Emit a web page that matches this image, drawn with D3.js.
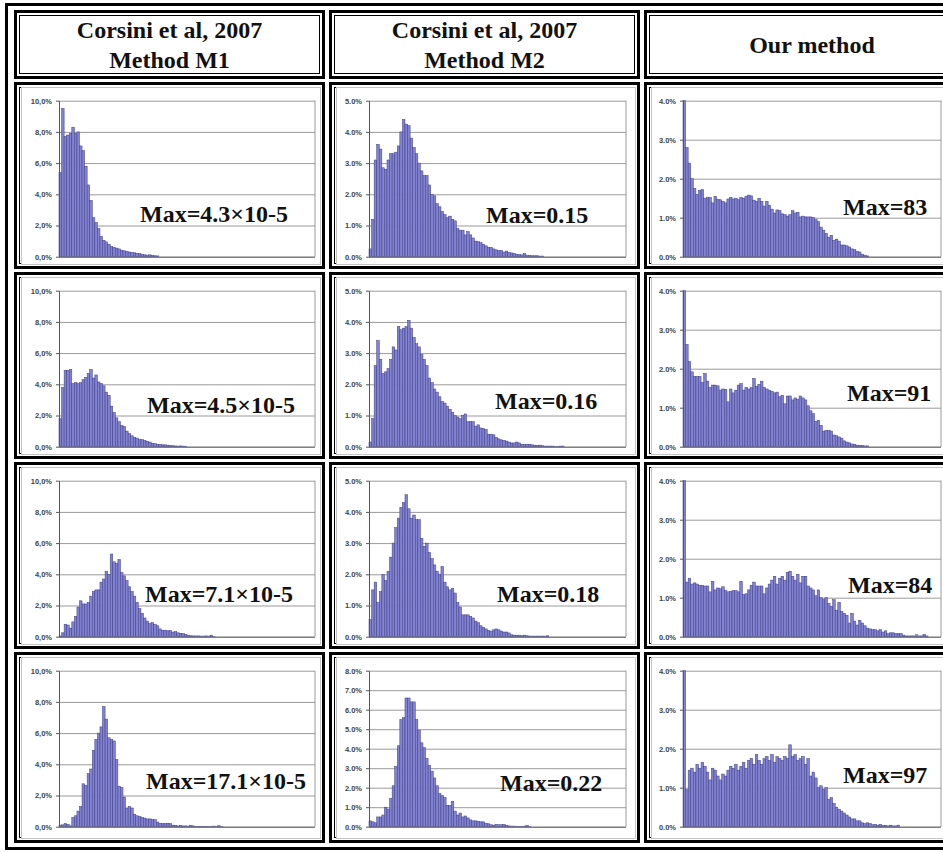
<!DOCTYPE html>
<html>
<head>
<meta charset="utf-8">
<script src="https://cdn.jsdelivr.net/npm/d3@7/dist/d3.min.js"></script>
<style>
  body { margin: 0; background: #fff; }
  svg { display: block; }
</style>
</head>
<body>
<div id="grid"></div>
<script>
// column headers
var headers = [
  ["Corsini et al, 2007", "Method M1"],
  ["Corsini et al, 2007", "Method M2"],
  ["Our method"]
];

// y axis max (%) and tick step per column, last row of M2 goes to 8%
var yMax = [[10, 5, 4], [10, 5, 4], [10, 5, 4], [10, 8, 4]];
var yStep = [2, 1, 1];

var maxLabels = [
  ["Max=4.3×10-5", "Max=0.15", "Max=83"],
  ["Max=4.5×10-5", "Max=0.16", "Max=91"],
  ["Max=7.1×10-5", "Max=0.18", "Max=84"],
  ["Max=17.1×10-5", "Max=0.22", "Max=97"]
];

// histogram values (% of samples per bin), bins not listed are empty
var m1Row1 = [5.4, 9.5, 7.7, 7.8, 7.9, 8.3, 7.9, 8.0, 7.1, 6.8, 5.8, 4.6, 3.6, 2.5, 2.2, 1.8, 1.3, 1.05, 0.95, 0.8,
  0.65, 0.6, 0.55, 0.5, 0.42, 0.38, 0.35, 0.3, 0.28, 0.25, 0.22, 0.2, 0.15, 0.12, 0.1, 0.12, 0.08, 0.06, 0.05];
var m2Row1 = [0.25, 1.2, 3.1, 3.6, 3.45, 2.85, 2.8, 3.1, 3.3, 3.3, 3.35, 3.55, 4.0, 4.4, 4.25, 4.2, 3.8, 3.5, 3.3, 3.0,
  2.75, 2.6, 2.6, 2.3, 2.0, 1.95, 1.7, 1.6, 1.45, 1.35, 1.25, 1.3, 1.2, 1.15, 0.9, 0.85, 0.85, 0.7, 0.8, 0.7,
  0.6, 0.5, 0.48, 0.45, 0.4, 0.35, 0.3, 0.3, 0.25, 0.22, 0.2, 0.2, 0.15, 0.18, 0.14, 0.12, 0.1, 0.08, 0.07, 0.06,
  0.1, 0.05, 0.04, 0.03, 0.03, 0.03, 0.02, 0.02];
var oursRow1 = [4.0, 2.8, 2.4, 2.0, 1.75, 1.6, 1.7, 1.72, 1.5, 1.52, 1.52, 1.38, 1.55, 1.47, 1.46, 1.42, 1.38, 1.48, 1.52, 1.48,
  1.5, 1.46, 1.52, 1.5, 1.55, 1.58, 1.56, 1.45, 1.42, 1.5, 1.42, 1.3, 1.42, 1.32, 1.22, 1.12, 1.2, 1.18, 1.1, 1.08,
  1.04, 1.08, 1.18, 1.12, 1.14, 1.02, 1.04, 1.02, 1.02, 1.02, 1.0, 0.95, 0.9, 0.76, 0.68, 0.6, 0.5, 0.55, 0.42, 0.45,
  0.4, 0.3, 0.3, 0.28, 0.25, 0.2, 0.18, 0.14, 0.12, 0.06, 0.04, 0.02];

var m1Row2 = [1.8, 3.8, 4.9, 4.9, 4.95, 4.05, 4.1, 4.05, 4.1, 4.3, 4.45, 4.7, 4.95, 4.4, 4.6, 4.15, 4.05, 3.9, 3.5, 3.3,
  2.6, 2.2, 1.85, 1.6, 1.35, 1.3, 1.0, 0.85, 0.7, 0.6, 0.55, 0.45, 0.45, 0.4, 0.35, 0.3, 0.22, 0.2, 0.15, 0.15,
  0.12, 0.12, 0.1, 0.08, 0.06, 0.05, 0.04, 0.05, 0.04, 0.03];
var m2Row2 = [0.15, 0.9, 2.6, 3.4, 2.8, 2.35, 2.4, 2.5, 2.8, 3.2, 3.1, 3.85, 3.75, 3.8, 3.85, 4.05, 3.8, 3.5, 3.3, 3.2,
  2.95, 2.8, 2.6, 2.2, 2.05, 1.85, 1.75, 1.6, 1.45, 1.4, 1.3, 1.2, 1.1, 1.0, 0.95, 0.9, 1.0, 1.05, 0.8, 0.8,
  0.8, 0.65, 0.7, 0.6, 0.58, 0.55, 0.4, 0.4, 0.38, 0.3, 0.25, 0.22, 0.2, 0.18, 0.15, 0.12, 0.12, 0.15, 0.12, 0.08,
  0.07, 0.08, 0.08, 0.06, 0.05, 0.04, 0.05, 0.03, 0.02, 0.02, 0.02, 0.02, 0.01, 0.01, 0.02, 0.02];
var oursRow2 = [4.0, 2.62, 2.18, 1.92, 1.8, 1.8, 1.8, 1.65, 1.88, 1.68, 1.52, 1.58, 1.58, 1.56, 1.45, 1.48, 1.47, 1.15, 1.48, 1.38,
  1.45, 1.58, 1.62, 1.45, 1.52, 1.48, 1.52, 1.75, 1.55, 1.6, 1.68, 1.52, 1.48, 1.45, 1.42, 1.38, 1.4, 1.28, 1.32, 1.1,
  1.3, 1.3, 1.2, 1.25, 1.22, 1.3, 1.25, 1.2, 1.05, 0.92, 0.85, 0.65, 0.68, 0.55, 0.4, 0.42, 0.42, 0.4, 0.3, 0.28,
  0.25, 0.22, 0.15, 0.12, 0.1, 0.07, 0.06, 0.04, 0.03, 0.03, 0.02, 0.02];

var m1Row3 = [0.05, 0.25, 0.8, 0.75, 0.55, 0.95, 1.3, 1.9, 2.3, 2.1, 2.1, 2.2, 2.6, 2.9, 3.0, 3.0, 3.5, 3.7, 4.2, 4.0,
  5.3, 4.8, 4.7, 4.95, 4.1, 3.9, 3.6, 3.2, 2.9, 2.6, 2.2, 1.8, 1.5, 1.2, 1.0, 0.85, 0.9, 0.8, 0.7, 0.5,
  0.4, 0.42, 0.38, 0.4, 0.3, 0.32, 0.25, 0.22, 0.2, 0.15, 0.08, 0.06, 0.05, 0.05, 0.05, 0.04, 0.04, 0.05, 0.04, 0.1, 0.02];
var m2Row3 = [0.55, 1.5, 1.75, 1.1, 1.45, 2.0, 1.8, 2.1, 2.55, 3.0, 3.5, 3.8, 4.15, 4.3, 4.55, 4.1, 3.8, 3.9, 3.75, 3.75,
  3.15, 2.9, 3.0, 2.7, 2.5, 2.3, 2.1, 2.0, 2.25, 1.75, 1.6, 1.5, 1.55, 1.4, 1.1, 0.95, 0.7, 0.7, 0.7, 0.65,
  0.6, 0.5, 0.45, 0.35, 0.3, 0.25, 0.2, 0.18, 0.22, 0.25, 0.22, 0.18, 0.15, 0.15, 0.12, 0.06, 0.05, 0.04, 0.05, 0.03,
  0.05, 0.03, 0.02, 0.02, 0.02, 0.02, 0.02, 0.02, 0.02, 0.03];
var oursRow3 = [4.0, 1.4, 1.5, 1.35, 1.38, 1.35, 1.32, 1.32, 1.3, 1.3, 1.15, 1.42, 1.2, 1.25, 1.23, 1.28, 1.18, 1.15, 1.16, 1.18,
  1.18, 1.15, 1.42, 1.08, 1.1, 1.2, 1.32, 1.4, 1.3, 1.3, 1.3, 1.1, 1.25, 1.35, 1.45, 1.55, 1.35, 1.5, 1.55, 1.45,
  1.65, 1.68, 1.55, 1.45, 1.6, 1.38, 1.55, 1.55, 1.3, 1.25, 1.2, 1.05, 1.2, 1.0, 0.95, 1.0, 0.85, 0.78, 0.95, 0.68,
  0.88, 0.65, 0.6, 0.55, 0.35, 0.6, 0.4, 0.3, 0.42, 0.35, 0.28, 0.22, 0.2, 0.18, 0.18, 0.15, 0.18, 0.12, 0.15, 0.08,
  0.1, 0.1, 0.08, 0.08, 0.08, 0.04, 0.02, 0.02, 0.02, 0.02, 0.05, 0.02, 0.02, 0.06, 0.02];

var m1Row4 = [0.1, 0.12, 0.2, 0.15, 0.05, 0.6, 0.7, 1.0, 1.3, 2.75, 2.65, 3.4, 3.7, 4.9, 5.6, 6.0, 6.4, 7.7, 6.9, 5.7,
  5.6, 5.5, 4.3, 2.6, 2.5, 1.9, 1.2, 1.3, 1.2, 0.8, 0.7, 0.65, 0.6, 0.55, 0.5, 0.5, 0.45, 0.45, 0.3, 0.22,
  0.2, 0.2, 0.22, 0.2, 0.1, 0.08, 0.05, 0.08, 0.05, 0.05, 0.04, 0.08, 0.05, 0.03, 0.03, 0.03, 0.03, 0.02, 0.02, 0.02,
  0.04, 0.02, 0.06, 0.02];
var m2Row4 = [0.3, 0.25, 0.2, 0.5, 0.5, 0.6, 1.0, 0.9, 1.45, 2.1, 3.1, 4.15, 5.5, 5.6, 6.6, 6.6, 6.4, 6.4, 5.5, 4.95,
  4.3, 4.05, 3.5, 3.15, 2.85, 2.5, 2.1, 1.7, 1.6, 1.5, 1.1, 1.1, 1.3, 0.8, 0.6, 0.7, 0.5, 0.55, 0.45, 0.35,
  0.3, 0.3, 0.28, 0.25, 0.25, 0.18, 0.15, 0.1, 0.08, 0.12, 0.1, 0.1, 0.12, 0.06, 0.04, 0.03, 0.03, 0.02, 0.02, 0.02,
  0.03, 0.06, 0.02];
var oursRow4 = [4.0, 0.95, 1.45, 1.5, 1.4, 1.6, 1.5, 1.65, 1.55, 1.4, 1.2, 1.5, 1.45, 1.3, 1.2, 1.35, 1.3, 1.45, 1.55, 1.5,
  1.6, 1.45, 1.55, 1.65, 1.5, 1.7, 1.75, 1.6, 1.85, 1.7, 1.6, 1.75, 1.8, 1.7, 1.85, 1.65, 1.8, 1.75, 1.7, 1.8,
  1.75, 2.1, 1.8, 1.85, 1.7, 1.75, 1.8, 1.6, 1.75, 1.3, 1.4, 1.25, 1.0, 1.05, 0.95, 1.0, 0.7, 0.75, 0.6, 0.5,
  0.45, 0.4, 0.35, 0.3, 0.25, 0.2, 0.2, 0.15, 0.15, 0.1, 0.08, 0.1, 0.08, 0.05, 0.06, 0.04, 0.06, 0.03, 0.03, 0.02,
  0.04, 0.02, 0.02, 0.04];

var panels = [
  [m1Row1, m2Row1, oursRow1],
  [m1Row2, m2Row2, oursRow2],
  [m1Row3, m2Row3, oursRow3],
  [m1Row4, m2Row4, oursRow4]
];
var nBins = 100;

// layout of the table
var width = 943, height = 852;
var colX = [14, 329, 644], colW = [311, 311, 336];
var headerY = 10, headerH = 69;
var rowY = [82, 272, 462, 652], rowH = [187, 187, 187, 191];
var plotLeft = [45, 40, 39], plotW = [256, 257, 258];
var plotTop = 18.7, plotH = 156;
// where the "Max=" text sits inside each cell
var labelPos = [
  [[126, 140], [157, 141], [199, 133]],
  [[133, 141], [166, 137], [203, 129]],
  [[131, 140], [168, 140], [204, 131]],
  [[132, 137], [171, 139], [199, 131]]
];

var svg = d3
  .select("#grid")
  .append("svg")
  .attr("width", width)
  .attr("height", height);

// outer table border
svg
  .append("rect")
  .attr("x", 6.5)
  .attr("y", 4.5)
  .attr("width", 1000)
  .attr("height", 844)
  .attr("fill", "none")
  .attr("stroke", "#000")
  .attr("stroke-width", 3);

// thick border with thin inner line, like the html table cells
function cellFrame(x, y, w, h) {
  svg
    .append("rect")
    .attr("x", x + 1.5)
    .attr("y", y + 1.5)
    .attr("width", w - 3)
    .attr("height", h - 3)
    .attr("fill", "#fff")
    .attr("stroke", "#000")
    .attr("stroke-width", 3);
  svg
    .append("rect")
    .attr("x", x + 5.5)
    .attr("y", y + 5.5)
    .attr("width", w - 11)
    .attr("height", h - 11)
    .attr("fill", "none")
    .attr("stroke", "#000")
    .attr("stroke-width", 1);
}

// header row
headers.forEach(function (lines, c) {
  cellFrame(colX[c], headerY, colW[c], headerH);
  var cx = colX[c] + colW[c] / 2;
  var first = lines.length == 1 ? headerY + 43 : headerY + 28;
  var t = svg
    .append("text")
    .attr("text-anchor", "middle")
    .attr("font-family", "'Liberation Serif', 'Times New Roman', serif")
    .attr("font-weight", "bold")
    .attr("font-size", "24px")
    .attr("fill", "#111");
  lines.forEach(function (s, i) {
    t.append("tspan")
      .attr("x", cx)
      .attr("y", first + i * 30)
      .text(s);
  });
});

// histogram cells
panels.forEach(function (row, r) {
  row.forEach(function (values, c) {
    var cx = colX[c], cy = rowY[r];
    cellFrame(cx, cy, colW[c], rowH[r]);

    // light grey frame of the pasted chart
    svg
      .append("rect")
      .attr("x", cx + 7.5)
      .attr("y", cy + 5.5)
      .attr("width", colW[c] - 12)
      .attr("height", rowH[r] - 10)
      .attr("fill", "#fff")
      .attr("stroke", "#c4c4c4")
      .attr("stroke-width", 1);

    var g = svg
      .append("g")
      .attr("transform", "translate(" + (cx + plotLeft[c]) + "," + (cy + plotTop) + ")");

    var x = d3.scaleBand().domain(d3.range(nBins)).range([0, plotW[c]]).padding(0);
    var y = d3.scaleLinear().domain([0, yMax[r][c]]).range([plotH, 0]);
    var tickVals = d3.range(0, yMax[r][c] + 0.001, yStep[c]);

    // gridlines
    g.append("g")
      .attr("class", "grid")
      .call(d3.axisLeft(y).tickValues(tickVals).tickSize(-plotW[c]).tickFormat(""))
      .call(function (a) {
        a.select(".domain").remove();
        a.selectAll("line").attr("stroke", "#9a9a9a").attr("stroke-width", 1);
      });

    // right border of plot area
    g.append("line")
      .attr("x1", plotW[c])
      .attr("x2", plotW[c])
      .attr("y1", 0)
      .attr("y2", plotH)
      .attr("stroke", "#9a9a9a");

    // bars
    g.selectAll("rect.bar")
      .data(values)
      .join("rect")
      .attr("class", "bar")
      .attr("x", function (d, i) {
        return x(i);
      })
      .attr("width", x.bandwidth())
      .attr("y", function (d) {
        return y(Math.min(d, yMax[r][c]));
      })
      .attr("height", function (d) {
        return plotH - y(Math.min(d, yMax[r][c]));
      })
      .attr("fill", "#8282d0")
      .attr("stroke", "#3c3c86")
      .attr("stroke-width", 0.5);

    // y axis with percent labels
    var fmt = function (d) {
      var s = d.toFixed(1) + "%";
      return c == 0 ? s.replace(".", ",") : s;
    };
    g.append("g")
      .call(d3.axisLeft(y).tickValues(tickVals).tickSize(3).tickSizeOuter(0).tickPadding(4).tickFormat(fmt))
      .call(function (a) {
        a.select(".domain").attr("stroke", "#555");
        a.selectAll("line").attr("stroke", "#555");
        a.selectAll("text")
          .attr("font-family", "'Liberation Sans', Arial, sans-serif")
          .attr("font-weight", "bold")
          .attr("font-size", "7.5px")
          .attr("fill", "#444");
      });

    // x axis line
    g.append("line")
      .attr("x1", 0)
      .attr("x2", plotW[c])
      .attr("y1", plotH + 0.5)
      .attr("y2", plotH + 0.5)
      .attr("stroke", "#666");

    // max value label
    svg
      .append("text")
      .attr("x", cx + labelPos[r][c][0])
      .attr("y", cy + labelPos[r][c][1])
      .attr("font-family", "'Liberation Serif', 'Times New Roman', serif")
      .attr("font-weight", "bold")
      .attr("font-size", "24px")
      .attr("fill", "#111")
      .text(maxLabels[r][c]);
  });
});
</script>
</body>
</html>
